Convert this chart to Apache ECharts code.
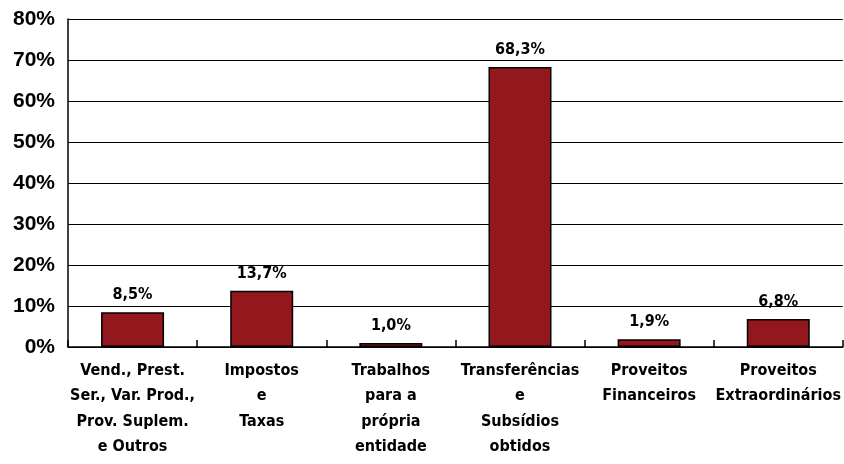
<!DOCTYPE html>
<html>
<head>
<meta charset="utf-8">
<script src="https://cdn.jsdelivr.net/npm/echarts@6/dist/echarts.min.js"></script>
<style>
  html, body { margin: 0; padding: 0; background: #fff; }
  #chart { width: 844px; height: 464px; }
</style>
</head>
<body>
<div id="chart"></div>
<script>
const categories = [
  'Vend., Prest.\nSer., Var. Prod.,\nProv. Suplem.\ne Outros',
  'Impostos\ne\nTaxas',
  'Trabalhos\npara a\nprópria\nentidade',
  'Transferências\ne\nSubsídios\nobtidos',
  'Proveitos\nFinanceiros',
  'Proveitos\nExtraordinários'
];
const values = [8.5, 13.7, 1.0, 68.3, 1.9, 6.8];
const yTicks = [0, 10, 20, 30, 40, 50, 60, 70, 80];

const narrow = "'Liberation Sans Narrow', 'DejaVu Sans Condensed', sans-serif";

const myChart = echarts.init(document.getElementById('chart'));

const option = {
  animation: false,
  grid: {
    left: 68,
    right: 1,
    top: 19,
    bottom: 117
  },
  xAxis: {
    type: 'category',
    data: categories,
    axisLine: { lineStyle: { color: '#000', width: 1.5 } },
    axisTick: { show: true, inside: true, length: 7, lineStyle: { color: '#000', width: 1.5 } },
    axisLabel: {
      interval: 0,
      margin: 11,
      color: '#000',
      fontFamily: narrow,
      fontWeight: 'bold',
      fontSize: 16,
      lineHeight: 25.5
    }
  },
  yAxis: {
    type: 'value',
    min: yTicks[0],
    max: yTicks[yTicks.length - 1],
    interval: 10,
    axisLine: { show: true, lineStyle: { color: '#000', width: 1.5 } },
    axisTick: { show: false },
    splitLine: { lineStyle: { color: '#000', width: 1.2 } },
    axisLabel: {
      margin: 13,
      color: '#000',
      fontFamily: "'Liberation Sans', Arial, sans-serif",
      fontWeight: 'bold',
      fontSize: 21,
      formatter: function (v) { return v + '%'; }
    }
  },
  series: [{
    type: 'bar',
    data: values,
    barWidth: 63,
    itemStyle: {
      color: '#93181D',
      borderColor: '#000',
      borderWidth: 1.5
    },
    label: {
      show: true,
      position: 'top',
      distance: 9,
      color: '#000',
      fontFamily: narrow,
      fontWeight: 'bold',
      fontSize: 16,
      formatter: function (p) { return p.value.toFixed(1).replace('.', ',') + '%'; }
    }
  }]
};

myChart.setOption(option);
</script>
</body>
</html>
